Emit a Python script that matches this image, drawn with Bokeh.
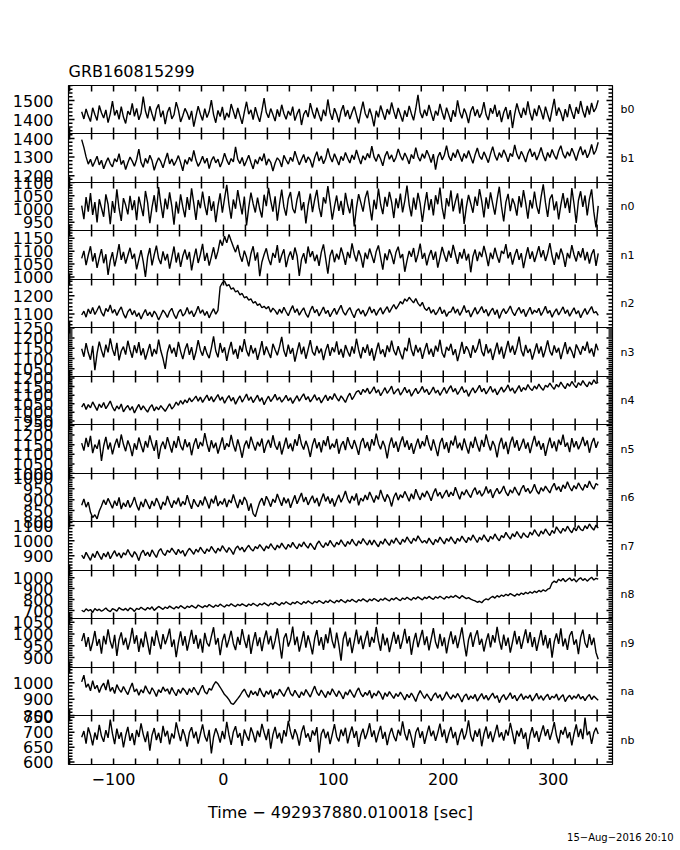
import numpy as np
from bokeh.plotting import figure
from bokeh.models import Range1d, LinearAxis, SingleIntervalTicker, Title
from bokeh.layouts import column
from bokeh.embed import file_html
from bokeh.resources import INLINE

# ---------------- data ----------------
title_text = "GRB160815299"
x_title = "Time \u2212 492937880.010018 [sec]"
date_text = "15\u2212Aug\u22122016 20:10"
t_start = -129   # first bin time (s)
t_step = 2       # bin width (s)
detectors = ["b0", "b1", "n0", "n1", "n2", "n3", "n4", "n5", "n6", "n7", "n8", "n9", "na", "nb"]

b0 = [1441, 1403, 1456, 1418, 1389, 1462, 1427, 1395, 1474, 1436, 1408, 1451,
      1384, 1430, 1497, 1422, 1450, 1401, 1468, 1413, 1379, 1444, 1425, 1486,
      1417, 1459, 1398, 1433, 1521, 1445, 1406, 1470, 1429, 1392, 1455, 1480,
      1412, 1447, 1375, 1438, 1466, 1403, 1425, 1492, 1451, 1387, 1420, 1459,
      1434, 1399, 1446, 1362, 1418, 1471, 1428, 1395, 1457, 1410, 1442, 1503,
      1426, 1383, 1448, 1416, 1467, 1397, 1435, 1411, 1482, 1443, 1404, 1461,
      1419, 1377, 1439, 1494, 1428, 1451, 1400, 1465, 1422, 1388, 1447, 1513,
      1437, 1409, 1458, 1426, 1392, 1453, 1415, 1478, 1432, 1401, 1445, 1421,
      1468, 1394, 1430, 1456, 1371, 1427, 1449, 1413, 1487, 1440, 1405, 1463,
      1424, 1391, 1452, 1418, 1506, 1435, 1398, 1460, 1429, 1385, 1444, 1476,
      1416, 1450, 1402, 1438, 1469, 1423, 1380, 1441, 1495, 1432, 1407, 1458,
      1420, 1364, 1446, 1412, 1474, 1436, 1399, 1455, 1427, 1490, 1443, 1404,
      1461, 1425, 1389, 1448, 1414, 1472, 1431, 1396, 1457, 1530, 1439, 1408,
      1452, 1419, 1477, 1434, 1393, 1446, 1421, 1483, 1437, 1400, 1463, 1426,
      1388, 1449, 1415, 1501, 1440, 1406, 1458, 1429, 1381, 1444, 1470, 1418,
      1453, 1410, 1436, 1492, 1425, 1397, 1460, 1431, 1478, 1414, 1448, 1386,
      1437, 1466, 1402, 1450, 1355, 1428, 1485, 1441, 1409, 1462, 1423, 1496,
      1433, 1395, 1457, 1418, 1475, 1444, 1401, 1468, 1427, 1389, 1451, 1509,
      1420, 1463, 1436, 1392, 1455, 1412, 1481, 1438, 1404, 1466, 1430, 1498,
      1445, 1411, 1472, 1426, 1488, 1440, 1461, 1502]
b1 = [1394, 1352, 1301, 1262, 1288, 1249, 1276, 1305, 1258, 1283, 1237, 1270,
      1296, 1265, 1247, 1291, 1274, 1318, 1260, 1282, 1233, 1269, 1300, 1278,
      1251, 1287, 1343, 1272, 1245, 1293, 1266, 1310, 1281, 1229, 1268, 1296,
      1275, 1242, 1284, 1322, 1263, 1290, 1255, 1279, 1308, 1270, 1226, 1286,
      1261, 1299, 1277, 1336, 1284, 1250, 1273, 1304, 1267, 1294, 1238, 1281,
      1303, 1269, 1289, 1246, 1276, 1321, 1285, 1259, 1292, 1274, 1355, 1288,
      1265, 1298, 1252, 1280, 1310, 1271, 1236, 1287, 1263, 1301, 1279, 1319,
      1256, 1290, 1272, 1225, 1268, 1296, 1281, 1247, 1309, 1284, 1262, 1299,
      1276, 1332, 1293, 1258, 1287, 1314, 1270, 1301, 1283, 1244, 1297, 1329,
      1279, 1306, 1264, 1292, 1347, 1300, 1273, 1318, 1289, 1257, 1304, 1281,
      1325, 1294, 1268, 1311, 1286, 1339, 1298, 1262, 1307, 1284, 1320, 1295,
      1359, 1301, 1277, 1316, 1290, 1253, 1305, 1331, 1288, 1312, 1274, 1298,
      1344, 1307, 1283, 1322, 1296, 1263, 1314, 1291, 1351, 1302, 1278, 1318,
      1293, 1337, 1309, 1271, 1316, 1232, 1299, 1326, 1285, 1311, 1362, 1304,
      1280, 1323, 1297, 1341, 1308, 1276, 1319, 1294, 1335, 1300, 1266, 1313,
      1349, 1305, 1287, 1328, 1301, 1270, 1317, 1356, 1309, 1282, 1324, 1298,
      1339, 1312, 1275, 1320, 1303, 1366, 1315, 1289, 1331, 1306, 1273, 1319,
      1345, 1302, 1327, 1284, 1314, 1352, 1308, 1279, 1325, 1298, 1341, 1310,
      1288, 1333, 1361, 1316, 1294, 1329, 1305, 1348, 1318, 1281, 1326, 1357,
      1311, 1340, 1296, 1322, 1368, 1314, 1337, 1380]
n0 = [1013, 962, 1045, 990, 1060, 978, 1026, 949, 1037, 1004, 971, 1055,
      1018, 943, 1030, 985, 1074, 1002, 955, 1041, 1015, 980, 1050, 996,
      1033, 958, 1047, 1010, 973, 1068, 1024, 947, 1006, 1052, 988, 1083,
      1019, 966, 1039, 999, 1063, 1011, 941, 1028, 983, 1055, 1008, 969,
      1045, 997, 1078, 1021, 959, 1034, 1003, 1066, 1014, 977, 1049, 993,
      1029, 950, 1012, 1059, 986, 1040, 1091, 1017, 964, 1036, 1001, 1071,
      1023, 980, 1047, 938, 1006, 1062, 1020, 987, 1043, 1000, 968, 1054,
      1011, 1080, 1032, 990, 1048, 956, 1019, 1073, 1008, 975, 1039, 1064,
      1002, 984, 1037, 1067, 995, 1026, 946, 1013, 1058, 988, 1035, 1072,
      1006, 970, 1044, 1021, 1086, 1027, 960, 1009, 1051, 993, 1031, 978,
      1061, 1015, 984, 1038, 934, 1004, 1056, 1024, 990, 1042, 1069, 1012,
      957, 1035, 999, 1077, 1018, 981, 1046, 1009, 1065, 1026, 966, 1040,
      1003, 1058, 987, 1031, 1088, 1016, 972, 1043, 998, 1061, 1020, 951,
      1014, 1064, 996, 1037, 976, 1052, 1018, 1081, 1005, 962, 1041, 1010,
      1070, 991, 1028, 1059, 983, 1039, 944, 1007, 1053, 1021, 986, 1047,
      1012, 1075, 1030, 968, 1044, 1001, 1063, 1019, 979, 1036, 1084, 1009,
      953, 1026, 1057, 992, 1040, 1017, 975, 1049, 1006, 1071, 1023, 964,
      1034, 1002, 1066, 1011, 982, 1045, 1093, 1024, 970, 1038, 1055, 995,
      1029, 961, 1016, 1060, 1003, 1042, 985, 1079, 1019, 948, 1032, 1067,
      1008, 1051, 976, 1037, 1074, 989, 931, 1012]
n1 = [1072, 1101, 1046, 1085, 1119, 1060, 1092, 1035, 1074, 1108, 1053, 1088,
      1008, 1063, 1096, 1041, 1080, 1127, 1066, 1097, 1052, 1083, 1113, 1070,
      1090, 1029, 1068, 1104, 1059, 1000, 1077, 1112, 1045, 1086, 1121, 1071,
      1050, 1099, 1064, 1089, 1032, 1075, 1118, 1056, 1094, 1039, 1081, 1106,
      1067, 1097, 1025, 1072, 1110, 1054, 1087, 1128, 1062, 1093, 1044, 1078,
      1115, 1069, 1100, 1144, 1121, 1158, 1132, 1165, 1140, 1117, 1096, 1124,
      1083, 1059, 1102, 1076, 1041, 1090, 1119, 1063, 1095, 1003, 1058, 1087,
      1111, 1070, 1046, 1093, 1074, 1123, 1055, 1084, 1107, 1038, 1076, 1099,
      1066, 1114, 1081, 1004, 1068, 1092, 1052, 1118, 1077, 1100, 1061, 1086,
      1043, 1095, 1126, 1071, 1013, 1082, 1105, 1057, 1090, 1068, 1114, 1085,
      1047, 1097, 1073, 1130, 1088, 1060, 1103, 1079, 1036, 1094, 1069, 1110,
      1082, 1054, 1099, 1122, 1075, 1028, 1091, 1065, 1107, 1084, 1050, 1096,
      1117, 1073, 1089, 1020, 1063, 1101, 1078, 1112, 1057, 1087, 1129, 1070,
      1093, 1045, 1081, 1104, 1066, 1098, 1036, 1075, 1116, 1085, 1059, 1102,
      1074, 1124, 1088, 1051, 1096, 1071, 1109, 1064, 1090, 1018, 1079, 1106,
      1061, 1098, 1077, 1120, 1086, 1042, 1094, 1069, 1113, 1080, 1055, 1101,
      1089, 1127, 1072, 1096, 1048, 1083, 1108, 1066, 1092, 1034, 1078, 1115,
      1070, 1099, 1058, 1087, 1119, 1076, 1104, 1062, 1091, 1131, 1081, 1047,
      1095, 1068, 1110, 1084, 1039, 1093, 1072, 1123, 1086, 1060, 1100, 1075,
      1112, 1064, 1097, 1052, 1088, 1107, 1043, 1091]
n2 = [1094, 1115, 1082, 1127, 1101, 1136, 1097, 1120, 1145, 1108, 1087, 1130,
      1113, 1149, 1104, 1125, 1091, 1118, 1139, 1100, 1077, 1112, 1128, 1095,
      1119, 1085, 1106, 1072, 1101, 1124, 1090, 1110, 1083, 1116, 1097, 1066,
      1093, 1121, 1104, 1080, 1113, 1131, 1096, 1074, 1109, 1125, 1088, 1102,
      1136, 1099, 1117, 1084, 1110, 1142, 1103, 1123, 1091, 1114, 1078, 1106,
      1129, 1098, 1120, 1250, 1272, 1281, 1255, 1262, 1236, 1244, 1221, 1228,
      1205, 1213, 1189, 1196, 1176, 1183, 1160, 1168, 1147, 1155, 1134, 1142,
      1128, 1141, 1109, 1132, 1118, 1097, 1126, 1104, 1137, 1112, 1090, 1121,
      1146, 1107, 1128, 1093, 1115, 1134, 1100, 1081, 1119, 1143, 1106, 1125,
      1089, 1113, 1138, 1102, 1120, 1084, 1109, 1131, 1097, 1124, 1148, 1111,
      1093, 1118, 1135, 1104, 1079, 1116, 1128, 1099, 1121, 1087, 1110, 1140,
      1105, 1126, 1092, 1117, 1134, 1099, 1121, 1140, 1108, 1131, 1152, 1127,
      1146, 1168, 1155, 1183, 1170, 1192, 1176, 1161, 1185, 1158, 1143, 1164,
      1131, 1119, 1137, 1104, 1124, 1095, 1113, 1138, 1101, 1122, 1086, 1109,
      1112, 1139, 1104, 1127, 1092, 1115, 1146, 1108, 1121, 1083, 1110, 1135,
      1099, 1118, 1141, 1106, 1125, 1088, 1114, 1132, 1096, 1123, 1075, 1108,
      1129, 1101, 1120, 1144, 1110, 1090, 1117, 1136, 1103, 1126, 1085, 1112,
      1137, 1098, 1121, 1107, 1131, 1091, 1115, 1142, 1104, 1119, 1082, 1109,
      1128, 1094, 1116, 1139, 1102, 1123, 1087, 1111, 1134, 1100, 1118, 1079,
      1106, 1130, 1097, 1120, 1141, 1105, 1113, 1092]
n3 = [1148, 1109, 1175, 1128, 1094, 1162, 1043, 1125, 1183, 1140, 1106, 1168,
      1130, 1199, 1146, 1113, 1177, 1091, 1137, 1158, 1119, 1187, 1142, 1104,
      1165, 1127, 1180, 1116, 1150, 1095, 1134, 1171, 1110, 1147, 1122, 1193,
      1138, 1100, 1049, 1131, 1169, 1126, 1153, 1108, 1182, 1135, 1097, 1144,
      1174, 1118, 1156, 1093, 1133, 1190, 1141, 1114, 1160, 1124, 1102, 1151,
      1209, 1137, 1106, 1176, 1129, 1155, 1088, 1142, 1181, 1120, 1146, 1099,
      1163, 1132, 1195, 1139, 1111, 1166, 1125, 1152, 1094, 1135, 1185, 1117,
      1159, 1130, 1103, 1172, 1143, 1116, 1157, 1206, 1138, 1109, 1168, 1123,
      1151, 1085, 1134, 1179, 1121, 1158, 1099, 1144, 1190, 1133, 1115, 1162,
      1126, 1149, 1092, 1140, 1171, 1113, 1155, 1131, 1184, 1119, 1147, 1105,
      1166, 1136, 1110, 1159, 1124, 1197, 1142, 1101, 1156, 1128, 1169, 1114,
      1150, 1090, 1137, 1178, 1122, 1145, 1107, 1164, 1132, 1188, 1139, 1116,
      1161, 1125, 1096, 1153, 1136, 1201, 1143, 1112, 1167, 1130, 1154, 1098,
      1141, 1176, 1120, 1148, 1108, 1163, 1134, 1192, 1127, 1105, 1157, 1138,
      1172, 1117, 1146, 1087, 1131, 1181, 1123, 1160, 1140, 1103, 1165, 1129,
      1152, 1196, 1135, 1112, 1170, 1126, 1149, 1093, 1137, 1178, 1121, 1158,
      1100, 1144, 1186, 1130, 1163, 1118, 1154, 1207, 1139, 1111, 1167, 1128,
      1147, 1095, 1133, 1174, 1124, 1159, 1106, 1143, 1189, 1136, 1115, 1164,
      1129, 1152, 1097, 1141, 1180, 1122, 1157, 1134, 1102, 1169, 1145, 1119,
      1161, 1138, 1183, 1126, 1150, 1109, 1172, 1140]
n4 = [1030, 1052, 1017, 1045, 1026, 1061, 1036, 1011, 1048, 1028, 1057, 1021,
      1042, 1066, 1031, 1008, 1037, 1019, 1049, 1003, 1025, 1040, 1012, 1034,
      996, 1023, 1046, 1014, 1038, 1018, 1001, 1029, 1044, 1009, 1032, 1015,
      1039, 1022, 1006, 1027, 1050, 1019, 1035, 1060, 1041, 1069, 1048, 1073,
      1056, 1084, 1062, 1077, 1095, 1065, 1089, 1058, 1080, 1101, 1068, 1092,
      1061, 1083, 1104, 1070, 1090, 1053, 1078, 1098, 1066, 1087, 1047, 1074,
      1096, 1060, 1082, 1107, 1069, 1091, 1057, 1079, 1100, 1064, 1086, 1044,
      1072, 1094, 1063, 1081, 1105, 1071, 1089, 1059, 1077, 1099, 1067, 1085,
      1052, 1076, 1097, 1065, 1088, 1108, 1073, 1092, 1061, 1080, 1103, 1070,
      1087, 1055, 1078, 1101, 1068, 1093, 1075, 1110, 1084, 1066, 1096, 1079,
      1058, 1090, 1112, 1074, 1095, 1119, 1127, 1103, 1134, 1116, 1141, 1108,
      1125, 1149, 1113, 1132, 1097, 1120, 1144, 1111, 1129, 1153, 1106, 1124,
      1138, 1101, 1121, 1146, 1114, 1133, 1094, 1118, 1140, 1109, 1127, 1151,
      1116, 1135, 1103, 1122, 1148, 1112, 1130, 1099, 1123, 1145, 1110, 1136,
      1155, 1119, 1139, 1104, 1126, 1150, 1115, 1131, 1093, 1121, 1143, 1113,
      1134, 1158, 1120, 1140, 1107, 1128, 1152, 1117, 1137, 1102, 1125, 1147,
      1118, 1136, 1160, 1124, 1142, 1111, 1132, 1156, 1121, 1145, 1130, 1162,
      1139, 1127, 1154, 1136, 1165, 1143, 1129, 1158, 1147, 1171, 1150, 1135,
      1163, 1148, 1176, 1155, 1138, 1168, 1152, 1180, 1160, 1144, 1173, 1157,
      1185, 1164, 1149, 1178, 1161, 1190, 1169, 1175]
n5 = [1158, 1119, 1185, 1138, 1196, 1106, 1150, 1129, 1176, 1065, 1143, 1190,
      1125, 1161, 1100, 1147, 1181, 1134, 1203, 1152, 1116, 1172, 1141, 1090,
      1157, 1124, 1187, 1147, 1111, 1169, 1135, 1198, 1153, 1118, 1174, 1076,
      1139, 1166, 1127, 1189, 1148, 1109, 1170, 1133, 1194, 1144, 1121, 1178,
      1137, 1162, 1095, 1151, 1183, 1128, 1164, 1142, 1210, 1155, 1113, 1173,
      1132, 1160, 1104, 1146, 1188, 1123, 1157, 1138, 1201, 1149, 1115, 1177,
      1136, 1082, 1145, 1171, 1130, 1192, 1153, 1119, 1165, 1141, 1182, 1107,
      1150, 1175, 1134, 1199, 1147, 1124, 1167, 1099, 1142, 1186, 1129, 1156,
      1116, 1178, 1144, 1205, 1152, 1125, 1170, 1137, 1086, 1148, 1183, 1131,
      1163, 1110, 1173, 1143, 1195, 1126, 1155, 1135, 1180, 1103, 1146, 1168,
      1122, 1189, 1151, 1128, 1174, 1139, 1097, 1161, 1184, 1132, 1164, 1117,
      1179, 1145, 1208, 1154, 1126, 1170, 1140, 1079, 1149, 1187, 1134, 1166,
      1113, 1160, 1193, 1137, 1172, 1123, 1158, 1102, 1145, 1181, 1130, 1168,
      1142, 1200, 1151, 1119, 1177, 1136, 1091, 1157, 1185, 1127, 1163, 1108,
      1171, 1146, 1197, 1131, 1160, 1121, 1182, 1140, 1104, 1166, 1133, 1191,
      1148, 1114, 1175, 1138, 1204, 1155, 1120, 1169, 1143, 1084, 1152, 1186,
      1127, 1165, 1101, 1159, 1192, 1135, 1173, 1118, 1147, 1181, 1129, 1162,
      1106, 1154, 1196, 1141, 1170, 1124, 1158, 1092, 1144, 1187, 1132, 1167,
      1115, 1176, 1149, 1202, 1139, 1161, 1111, 1184, 1136, 1168, 1126, 1153,
      1190, 1143, 1172, 1108, 1157, 1185, 1134, 1166]
n6 = [874, 903, 866, 889, 842, 818, 831, 812, 848, 871, 899, 877,
      906, 884, 861, 895, 872, 910, 857, 886, 868, 898, 864, 883,
      912, 875, 851, 891, 866, 903, 880, 858, 894, 871, 907, 885,
      855, 890, 874, 917, 887, 863, 896, 879, 909, 869, 892, 876,
      921, 886, 858, 902, 881, 867, 897, 874, 914, 889, 860, 904,
      883, 919, 871, 893, 878, 906, 866, 899, 885, 924, 890, 862,
      901, 877, 912, 894, 849, 883, 836, 822, 858, 889, 907, 873,
      916, 895, 868, 903, 887, 926, 898, 872, 910, 884, 905, 863,
      893, 920, 881, 906, 931, 889, 912, 876, 899, 918, 885, 908,
      870, 901, 928, 892, 915, 882, 906, 869, 897, 922, 888, 911,
      940, 903, 884, 917, 896, 929, 874, 907, 893, 921, 899, 935,
      912, 887, 919, 901, 945, 914, 891, 924, 906, 869, 911, 932,
      898, 923, 909, 938, 917, 893, 927, 903, 948, 920, 899, 931,
      912, 940, 922, 895, 929, 951, 916, 934, 906, 926, 944, 913,
      935, 918, 957, 928, 902, 937, 921, 946, 925, 910, 939, 955,
      924, 942, 916, 931, 960, 929, 947, 908, 934, 952, 927, 940,
      963, 933, 918, 945, 930, 958, 937, 920, 949, 966, 936, 952,
      929, 944, 971, 941, 926, 955, 939, 962, 946, 931, 958, 975,
      944, 960, 936, 968, 951, 982, 957, 940, 965, 949, 977, 958,
      943, 970, 955, 986, 962, 948, 974, 966]
n7 = [905, 882, 923, 896, 870, 914, 888, 931, 903, 876, 917, 893,
      926, 881, 909, 934, 897, 919, 885, 921, 906, 942, 912, 891,
      928, 907, 868, 916, 937, 901, 925, 895, 939, 913, 889, 930,
      948, 915, 903, 937, 922, 951, 929, 908, 943, 917, 936, 897,
      927, 950, 932, 910, 944, 924, 957, 935, 914, 946, 928, 962,
      939, 918, 950, 931, 967, 944, 923, 954, 936, 909, 948, 965,
      938, 957, 926, 951, 970, 945, 932, 961, 947, 974, 954, 933,
      965, 949, 980, 958, 939, 971, 952, 984, 961, 943, 976, 956,
      989, 964, 947, 979, 960, 992, 968, 951, 983, 963, 941, 978,
      998, 970, 955, 987, 966, 1002, 977, 958, 990, 973, 1006, 981,
      962, 995, 976, 1010, 984, 966, 999, 980, 1014, 991, 971, 1004,
      971, 1004, 980, 960, 997, 977, 1012, 988, 969, 1006, 983, 1018,
      994, 975, 1010, 990, 1025, 1001, 981, 1016, 997, 1032, 1007, 986,
      1002, 983, 1017, 993, 973, 1009, 989, 1024, 1000, 979, 1015, 996,
      1025, 1001, 980, 1016, 996, 1031, 1007, 987, 1022, 1003, 1038, 1013,
      988, 1023, 1004, 1039, 1013, 993, 1029, 1010, 1045, 1018, 999, 1035,
      1020, 1055, 1030, 1010, 1046, 1026, 1061, 1035, 1016, 1052, 1032, 1021,
      1057, 1038, 1073, 1049, 1029, 1064, 1044, 1078, 1053, 1034, 1068, 1048,
      1092, 1068, 1049, 1082, 1062, 1096, 1071, 1052, 1086, 1066, 1099, 1075,
      1066, 1099, 1079, 1111, 1087, 1070, 1103, 1083]
n8 = [703, 689, 716, 698, 710, 683, 719, 700, 713, 694, 707, 723,
      701, 690, 717, 708, 696, 727, 712, 704, 720, 699, 725, 714,
      692, 721, 710, 731, 716, 705, 728, 713, 734, 702, 720, 738,
      725, 711, 733, 719, 741, 727, 715, 736, 722, 745, 731, 718,
      740, 729, 747, 734, 722, 751, 738, 727, 745, 733, 755, 741,
      730, 750, 737, 759, 744, 732, 753, 742, 762, 748, 737, 757,
      745, 761, 749, 738, 760, 747, 766, 753, 741, 763, 751, 770,
      756, 743, 767, 755, 775, 761, 748, 772, 759, 780, 765, 753,
      776, 763, 783, 769, 757, 781, 767, 788, 774, 761, 785, 772,
      791, 778, 765, 788, 774, 796, 781, 769, 793, 779, 800, 785,
      772, 796, 783, 803, 789, 776, 800, 787, 807, 793, 780, 804,
      790, 810, 797, 783, 807, 794, 814, 800, 787, 811, 798, 818,
      803, 791, 815, 801, 821, 807, 795, 819, 805, 825, 811, 798,
      822, 809, 829, 814, 802, 826, 812, 831, 817, 805, 828, 815,
      832, 819, 838, 825, 812, 836, 822, 809, 818, 804, 796, 789,
      776, 785, 771, 794, 806, 798, 817, 829, 814, 836, 823, 842,
      830, 849, 836, 855, 843, 831, 852, 840, 860, 847, 866, 853,
      871, 858, 877, 864, 884, 871, 889, 876, 895, 903, 951, 968,
      955, 986, 969, 992, 963, 981, 997, 972, 989, 961, 984, 999,
      975, 991, 968, 988, 1003, 979, 994, 986]
n9 = [970, 1004, 946, 987, 928, 965, 1013, 950, 979, 917, 992, 956,
      1020, 968, 939, 997, 907, 975, 1007, 953, 984, 934, 970, 1026,
      959, 995, 924, 981, 944, 1010, 962, 913, 989, 950, 1016, 972,
      936, 1000, 957, 985, 1023, 945, 977, 902, 964, 1011, 951, 991,
      930, 973, 1018, 958, 996, 938, 980, 921, 1005, 963, 948, 990,
      1029, 955, 983, 910, 971, 1001, 943, 976, 1014, 960, 932, 988,
      954, 1021, 974, 941, 998, 916, 969, 1008, 949, 986, 927, 978,
      1015, 956, 992, 935, 972, 1024, 961, 896, 982, 1003, 947, 975,
      1032, 953, 989, 925, 967, 1012, 942, 994, 958, 914, 981, 1017,
      951, 987, 933, 999, 961, 1027, 970, 940, 1006, 954, 887, 979,
      1010, 948, 985, 919, 968, 1019, 957, 993, 936, 977, 1014, 945,
      988, 963, 1030, 971, 929, 1002, 952, 984, 923, 966, 1009, 958,
      997, 937, 974, 1022, 960, 991, 912, 969, 1005, 944, 982, 1018,
      953, 990, 931, 978, 1025, 965, 939, 1001, 949, 986, 918, 972,
      1011, 957, 994, 940, 983, 1028, 962, 905, 976, 1007, 946, 989,
      1016, 954, 980, 926, 970, 1003, 943, 995, 964, 1031, 973, 934,
      998, 950, 985, 921, 966, 1013, 956, 991, 937, 979, 1020, 961,
      1008, 945, 987, 929, 974, 1017, 952, 996, 939, 983, 900, 968,
      1003, 958, 1024, 948, 981, 933, 993, 1012, 955, 977, 915, 986,
      1019, 962, 942, 1000, 953, 984, 922, 893]
na = [1006, 1047, 972, 993, 951, 1014, 963, 985, 941, 977, 998, 956,
      1019, 948, 973, 935, 989, 960, 942, 978, 951, 928, 967, 999,
      945, 962, 924, 958, 938, 982, 953, 931, 970, 947, 916, 958,
      940, 975, 949, 963, 930, 971, 944, 921, 960, 936, 968, 952,
      927, 964, 941, 973, 950, 926, 959, 985, 946, 932, 966, 955,
      986, 1007, 994, 973, 951, 928, 915, 897, 874, 868, 886, 903,
      921, 944, 962, 933, 911, 952, 928, 946, 920, 968, 937, 914,
      950, 929, 957, 905, 942, 925, 961, 938, 917, 948, 974, 935,
      920, 954, 931, 909, 945, 923, 959, 936, 913, 949, 980, 941,
      922, 956, 932, 910, 947, 926, 964, 939, 916, 951, 929, 902,
      944, 925, 958, 934, 911, 946, 969, 933, 915, 942, 924, 954,
      906, 937, 920, 951, 931, 898, 939, 917, 946, 925, 905, 934,
      916, 943, 921, 895, 930, 909, 938, 914, 886, 925, 952, 927,
      904, 932, 911, 890, 921, 939, 907, 928, 892, 914, 945, 919,
      900, 926, 908, 935, 913, 883, 918, 931, 896, 920, 903, 929,
      888, 912, 934, 901, 923, 894, 917, 937, 906, 922, 879, 910,
      928, 896, 915, 939, 903, 924, 890, 912, 933, 898, 919, 905,
      926, 889, 911, 936, 900, 921, 893, 915, 930, 897, 918, 908,
      931, 894, 913, 927, 885, 909, 924, 899, 920, 906, 932, 901,
      917, 891, 914, 928, 898, 919, 906, 893]
nb = [683, 704, 662, 716, 691, 656, 699, 675, 725, 687, 668, 707,
      681, 742, 695, 660, 712, 678, 700, 649, 689, 718, 671, 697,
      657, 708, 684, 730, 693, 667, 703, 638, 690, 714, 674, 698,
      664, 721, 686, 705, 659, 696, 679, 733, 700, 670, 710, 688,
      652, 699, 717, 680, 702, 662, 694, 726, 687, 669, 708, 629,
      684, 713, 693, 665, 704, 677, 735, 691, 658, 701, 720, 682,
      697, 654, 709, 688, 672, 716, 695, 666, 705, 684, 728, 699,
      674, 711, 645, 692, 718, 679, 698, 663, 707, 686, 738, 702,
      676, 710, 691, 655, 700, 723, 682, 696, 668, 706, 689, 717,
      632, 694, 711, 680, 702, 660, 693, 727, 685, 669, 709, 687,
      715, 663, 695, 719, 681, 704, 651, 690, 712, 677, 699, 730,
      684, 706, 666, 697, 721, 678, 701, 657, 692, 714, 686, 670,
      708, 689, 736, 696, 673, 710, 683, 648, 699, 716, 681, 703,
      661, 693, 722, 687, 705, 671, 698, 729, 684, 709, 664, 695,
      718, 680, 701, 657, 690, 713, 676, 697, 740, 688, 669, 706,
      685, 712, 653, 694, 719, 679, 703, 667, 696, 725, 683, 700,
      672, 708, 689, 731, 697, 660, 705, 686, 714, 678, 699, 643,
      691, 717, 682, 704, 668, 698, 723, 687, 710, 675, 701, 734,
      689, 663, 707, 692, 718, 680, 700, 656, 695, 726, 684, 711,
      677, 749, 690, 703, 661, 698, 715, 694]

series = [b0, b1, n0, n1, n2, n3, n4, n5, n6, n7, n8, n9, na, nb]
y_lo = [1326, 1163, 919, 990, 1025, 1012, 929, 1000, 800, 803, 628, 858, 800, 592]
y_hi = [1580, 1427, 1100, 1180, 1290, 1252, 1209, 1255, 1020, 1127, 1065, 1066, 1094, 756]
y_tick = [100, 100, 50, 50, 100, 50, 50, 50, 50, 100, 100, 50, 100, 50]
x_lo, x_hi = -141, 354
x_tick = 100
x_minor = 20

# ---------------- layout ----------------
FONT = "DejaVu Sans"
frame_w = 544
frame_h = [48, 49, 48, 49, 48, 49, 48, 49, 48, 49, 48, 49, 48, 49]
pad = 10          # border above/below each inner panel, overlapped with the neighbour
tick_len = 6      # px, inward ticks
minor_len = 4     # px


def tick_values(lo, hi, step):
    start = np.ceil(lo / step) * step
    return np.arange(start, hi + 1e-9, step)


def hide_axis_marks(ax):
    ax.axis_line_color = None
    ax.major_tick_in = 0
    ax.major_tick_out = 0
    ax.minor_tick_in = 0
    ax.minor_tick_out = 0


t = t_start + t_step * np.arange(len(b0))
xr = Range1d(x_lo, x_hi)
xt = tick_values(x_lo, x_hi, x_minor)
dx = (x_hi - x_lo) / frame_w
figs = []
n = len(detectors)
for i, name in enumerate(detectors):
    first = i == 0
    last = i == n - 1
    lo, hi = y_lo[i], y_hi[i]
    dy = (hi - lo) / frame_h[i]
    p = figure(frame_width=frame_w, frame_height=frame_h[i], x_range=xr,
               y_range=Range1d(lo, hi),
               output_backend="svg", toolbar_location=None,
               x_axis_location="below" if last else None,
               y_axis_location="left",
               min_border_left=68, min_border_right=68,
               min_border_top=85 if first else pad,
               min_border_bottom=78 if last else pad,
               outline_line_color="black", outline_line_width=1.2,
               background_fill_color="white", border_fill_color=None)
    if not first:
        p.margin = (-2 * pad, 0, 0, 0)
    p.xgrid.visible = False
    p.ygrid.visible = False

    if last:
        xa = p.xaxis[0]
        xa.ticker = SingleIntervalTicker(interval=x_tick, num_minor_ticks=5)
        hide_axis_marks(xa)
        xa.major_label_text_font = FONT
        xa.major_label_text_font_size = "16px"
        xa.major_label_text_color = "black"
        xa.major_label_standoff = 8
        xa.major_label_overrides = {-100: "\u2212100"}
        xa.axis_label = x_title
        xa.axis_label_text_font = FONT
        xa.axis_label_text_font_size = "16px"
        xa.axis_label_text_font_style = "normal"
        xa.axis_label_text_color = "black"
        xa.axis_label_standoff = 15

    ya = p.yaxis[0]
    ya.ticker = SingleIntervalTicker(interval=y_tick[i], num_minor_ticks=5)
    hide_axis_marks(ya)
    ya.major_label_text_font = FONT
    ya.major_label_text_font_size = "16px"
    ya.major_label_text_color = "black"
    ya.major_label_standoff = 15

    ry = LinearAxis(ticker=SingleIntervalTicker(interval=y_tick[i], num_minor_ticks=5))
    hide_axis_marks(ry)
    ry.major_label_text_color = None
    ry.major_label_text_font_size = "1px"
    ry.major_label_standoff = 0
    ry.axis_label = name
    ry.axis_label_orientation = "horizontal"
    ry.axis_label_text_font = FONT
    ry.axis_label_text_font_size = "11px"
    ry.axis_label_text_font_style = "normal"
    ry.axis_label_text_color = "black"
    ry.axis_label_standoff = 8
    p.add_layout(ry, "right")

    if first:
        p.title.text = title_text
        p.title.align = "left"
        p.title.text_font = FONT
        p.title.text_font_size = "16px"
        p.title.text_font_style = "normal"
        p.title.text_color = "black"
    if last:
        p.add_layout(Title(text=date_text, align="right", offset=-61,
                           text_font=FONT, text_font_size="10px",
                           text_font_style="normal", text_color="black"), "below")

    p.line(x=t, y=series[i], line_color="black", line_width=1.4)

    # inward tick marks drawn as short segments from the frame edges
    nx = len(xt)
    p.segment(x0=xt, y0=np.full(nx, float(lo)), x1=xt, y1=np.full(nx, lo + tick_len * dy),
              line_color="black", line_width=1.5)
    p.segment(x0=xt, y0=np.full(nx, float(hi)), x1=xt, y1=np.full(nx, hi - tick_len * dy),
              line_color="black", line_width=1.5)
    ymaj = tick_values(lo, hi, y_tick[i])
    ymin_all = tick_values(lo, hi, y_tick[i] / 5)
    ymin = np.array([v for v in ymin_all if not np.any(np.isclose(v, ymaj))])
    for yv, ln in ((ymaj, tick_len), (ymin, minor_len)):
        m = len(yv)
        p.segment(x0=np.full(m, float(x_lo)), y0=yv, x1=np.full(m, x_lo + ln * dx), y1=yv,
                  line_color="black", line_width=1.5)
        p.segment(x0=np.full(m, float(x_hi)), y0=yv, x1=np.full(m, x_hi - ln * dx), y1=yv,
                  line_color="black", line_width=1.5)

    figs.append(p)

layout = column(*figs, spacing=0)
open("out.html", "w").write(file_html(layout, INLINE))
